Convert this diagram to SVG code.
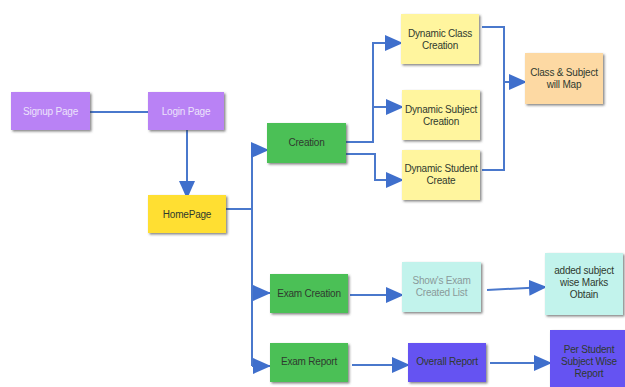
<svg xmlns="http://www.w3.org/2000/svg" width="625" height="387" viewBox="0 0 625 387">
<defs>
<style>
.n{stroke:none;filter:url(#sh)}
.t{font-family:"Liberation Sans",Arial,sans-serif;font-size:10px;text-anchor:middle;dominant-baseline:central;letter-spacing:-0.2px}
.dk{fill:#2f3a2f}
.lt{fill:#ece2fb}
.gr{fill:#8a9a9a}
.c{fill:none;stroke:#4a78cc;stroke-width:2}
</style>
<marker id="ah" viewBox="0 0 18 16" refX="17" refY="8" markerWidth="18" markerHeight="16" markerUnits="userSpaceOnUse" orient="auto">
<path d="M0,0 L18,8 L0,16 z" fill="#3f6fcc"/>
</marker>
<filter id="sh" x="-10%" y="-10%" width="125%" height="130%">
<feDropShadow dx="1.5" dy="1.5" stdDeviation="0.8" flood-color="#333" flood-opacity="0.6"/>
</filter>
</defs>
<rect width="625" height="387" fill="#ffffff"/>
<g id="connectors">
<path class="c" d="M90,112 H148"/>
<path class="c" d="M187,130 V198" marker-end="url(#ah)"/>
<path class="c" d="M226,209 H252"/>
<path class="c" d="M252,150 V366"/>
<path class="c" d="M252,150 H268" marker-end="url(#ah)"/>
<path class="c" d="M252,293 H270" marker-end="url(#ah)"/>
<path class="c" d="M252,366 H270" marker-end="url(#ah)"/>
<path class="c" d="M346,142 H373 V43 H402" marker-end="url(#ah)"/>
<path class="c" d="M373,107 H403" marker-end="url(#ah)"/>
<path class="c" d="M346,154 H375 V180 H403" marker-end="url(#ah)"/>
<path class="c" d="M482,27 H504 V170 H482"/>
<path class="c" d="M504,82 H526" marker-end="url(#ah)"/>
<path class="c" d="M350,295 H403" marker-end="url(#ah)"/>
<path class="c" d="M487,290 L546,287" marker-end="url(#ah)"/>
<path class="c" d="M352,365 H409" marker-end="url(#ah)"/>
<path class="c" d="M490,363 H551" marker-end="url(#ah)"/>
</g>
<g id="signup"><rect class="n" x="11" y="92" width="79" height="38" fill="#b982f5"/><text class="t lt" x="50.5" y="111">Signup Page</text></g>
<g id="login"><rect class="n" x="148" y="92" width="76" height="38" fill="#b982f5"/><text class="t lt" x="186" y="111">Login Page</text></g>
<g id="homepage"><rect class="n" x="148" y="195" width="78" height="38" fill="#ffdf33"/><text class="t dk" x="187" y="214">HomePage</text></g>
<g id="creation"><rect class="n" x="267" y="123" width="79" height="40" fill="#4cc056"/><text class="t dk" x="306.5" y="142">Creation</text></g>
<g id="dyn-class"><rect class="n" x="401" y="14" width="78" height="50" fill="#fff59e"/><text class="t dk" x="440" y="33">Dynamic Class</text><text class="t dk" x="440" y="45">Creation</text></g>
<g id="dyn-subject"><rect class="n" x="402" y="90" width="78" height="50" fill="#fff59e"/><text class="t dk" x="441" y="109">Dynamic Subject</text><text class="t dk" x="441" y="121">Creation</text></g>
<g id="dyn-student"><rect class="n" x="402" y="150" width="78" height="50" fill="#fff59e"/><text class="t dk" x="441" y="168">Dynamic Student</text><text class="t dk" x="441" y="180">Create</text></g>
<g id="class-subject-map"><rect class="n" x="525" y="53" width="78" height="51" fill="#fdd9a3"/><text class="t dk" x="564" y="72">Class &amp; Subject</text><text class="t dk" x="564" y="84">will Map</text></g>
<g id="exam-creation"><rect class="n" x="270" y="274" width="78" height="39" fill="#4cc056"/><text class="t dk" x="309" y="293">Exam Creation</text></g>
<g id="exam-report"><rect class="n" x="270" y="343" width="78" height="39" fill="#4cc056"/><text class="t dk" x="309" y="361">Exam Report</text></g>
<g id="shows-exam"><rect class="n" x="402" y="262" width="79" height="50" fill="#c2f3ec"/><text class="t gr" x="441.5" y="280">Show's Exam</text><text class="t gr" x="441.5" y="292">Created List</text></g>
<g id="marks-obtain"><rect class="n" x="545" y="253" width="78" height="62" fill="#c2f3ec"/><text class="t dk" x="584" y="270">added subject</text><text class="t dk" x="584" y="282">wise Marks</text><text class="t dk" x="584" y="294">Obtain</text></g>
<g id="overall-report"><rect class="n" x="408" y="343" width="78" height="39" fill="#6553f2"/><text class="t dk" x="447" y="361">Overall Report</text></g>
<g id="per-student"><rect class="n" x="550" y="330" width="78" height="60" fill="#6553f2"/><text class="t dk" x="589" y="349">Per Student</text><text class="t dk" x="589" y="361">Subject Wise</text><text class="t dk" x="589" y="373">Report</text></g>
</svg>
